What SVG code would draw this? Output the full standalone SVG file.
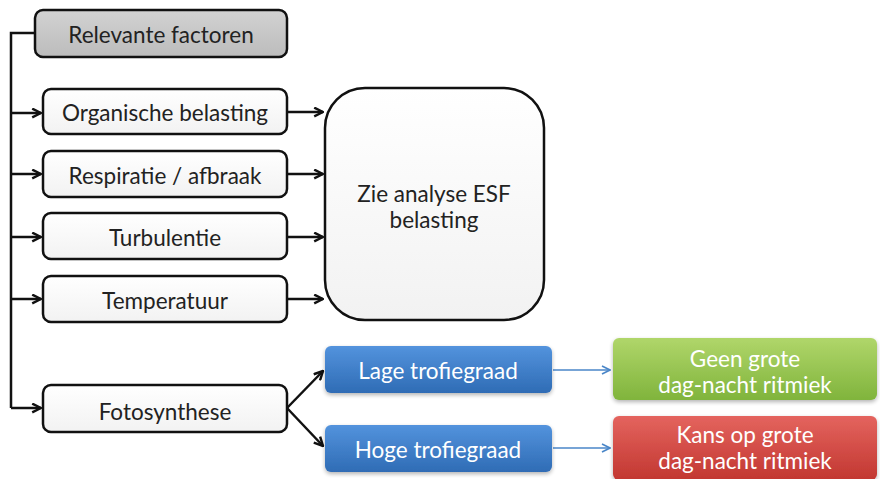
<svg xmlns="http://www.w3.org/2000/svg" width="880" height="479" viewBox="0 0 880 479">
  <defs>
    <linearGradient id="gWhite" x1="0" y1="0" x2="0" y2="1">
      <stop offset="0" stop-color="#ffffff"/>
      <stop offset="1" stop-color="#f2f2f2"/>
    </linearGradient>
    <linearGradient id="gGray" x1="0" y1="0" x2="0" y2="1">
      <stop offset="0" stop-color="#d2d2d2"/>
      <stop offset="1" stop-color="#bcbcbc"/>
    </linearGradient>
    <linearGradient id="gBlue" x1="0" y1="0" x2="0" y2="1">
      <stop offset="0" stop-color="#5393dd"/>
      <stop offset="1" stop-color="#2f6cb5"/>
    </linearGradient>
    <linearGradient id="gGreen" x1="0" y1="0" x2="0" y2="1">
      <stop offset="0" stop-color="#b0d66a"/>
      <stop offset="1" stop-color="#80b43c"/>
    </linearGradient>
    <linearGradient id="gRed" x1="0" y1="0" x2="0" y2="1">
      <stop offset="0" stop-color="#e4645e"/>
      <stop offset="1" stop-color="#c23731"/>
    </linearGradient>
    <filter id="shadow" x="-10%" y="-10%" width="120%" height="130%">
      <feGaussianBlur in="SourceAlpha" stdDeviation="2"/>
      <feOffset dx="0" dy="2" result="b"/>
      <feComponentTransfer><feFuncA type="linear" slope="0.3"/></feComponentTransfer>
      <feMerge><feMergeNode/><feMergeNode in="SourceGraphic"/></feMerge>
    </filter>
    <marker id="arrowBlack" viewBox="0 0 10 10" refX="9" refY="5" markerWidth="11" markerHeight="11" markerUnits="userSpaceOnUse" orient="auto">
      <path d="M1,1 L9,5 L1,9" fill="none" stroke="#111" stroke-width="2.2"/>
    </marker>
    <marker id="arrowBlue" viewBox="0 0 10 10" refX="9" refY="5" markerWidth="10" markerHeight="10" markerUnits="userSpaceOnUse" orient="auto">
      <path d="M1,1 L9,5 L1,9" fill="none" stroke="#4a86c8" stroke-width="1.6"/>
    </marker>
  </defs>
  <style>
    .box { fill: url(#gWhite); stroke: #111; stroke-width: 2.5; }
    .head { fill: url(#gGray); stroke: #111; stroke-width: 2.5; }
    .blue { fill: url(#gBlue); filter: url(#shadow); }
    .green { fill: url(#gGreen); filter: url(#shadow); }
    .red { fill: url(#gRed); filter: url(#shadow); }
    text { font-family: Lato, "Open Sans", sans-serif; font-size: 22.5px; text-anchor: middle; }
    .dark { fill: #222; }
    .light { fill: #ffffff; }
    .link { fill: none; stroke: #111; stroke-width: 2.5; }
    .blink { fill: none; stroke: #4a86c8; stroke-width: 1.6; }
  </style>

  <rect width="880" height="479" fill="#ffffff"/>

  <!-- connectors -->
  <g id="connectors">
    <path class="link" d="M35,33 H11 V408"/>
    <path class="link" d="M11,113 H41" marker-end="url(#arrowBlack)"/>
    <path class="link" d="M11,174 H41" marker-end="url(#arrowBlack)"/>
    <path class="link" d="M11,237 H41" marker-end="url(#arrowBlack)"/>
    <path class="link" d="M11,299 H41" marker-end="url(#arrowBlack)"/>
    <path class="link" d="M11,408 H41" marker-end="url(#arrowBlack)"/>
    <path class="link" d="M287,112 H323" marker-end="url(#arrowBlack)"/>
    <path class="link" d="M287,174 H323" marker-end="url(#arrowBlack)"/>
    <path class="link" d="M287,237 H323" marker-end="url(#arrowBlack)"/>
    <path class="link" d="M287,299 H323" marker-end="url(#arrowBlack)"/>
    <path class="link" d="M287,408 L323,371" marker-end="url(#arrowBlack)"/>
    <path class="link" d="M287,408 L323,446" marker-end="url(#arrowBlack)"/>
    <path class="blink" d="M553,370 H610" marker-end="url(#arrowBlue)"/>
    <path class="blink" d="M553,448 H610" marker-end="url(#arrowBlue)"/>
  </g>

  <g id="relevante-factoren">
    <rect class="head" x="35" y="10" width="252" height="47" rx="8"/>
    <text class="dark" x="161" y="43">Relevante factoren</text>
  </g>

  <g id="organische-belasting">
    <rect class="box" x="43" y="89" width="244" height="45" rx="8"/>
    <text class="dark" x="165" y="121">Organische belasting</text>
  </g>

  <g id="respiratie-afbraak">
    <rect class="box" x="43" y="151" width="244" height="46" rx="8"/>
    <text class="dark" x="165" y="184">Respiratie / afbraak</text>
  </g>

  <g id="turbulentie">
    <rect class="box" x="43" y="213" width="244" height="46" rx="8"/>
    <text class="dark" x="165" y="246">Turbulentie</text>
  </g>

  <g id="temperatuur">
    <rect class="box" x="43" y="276" width="244" height="46" rx="8"/>
    <text class="dark" x="165" y="309">Temperatuur</text>
  </g>

  <g id="esf-analyse">
    <rect class="box" x="325" y="88" width="219" height="232" rx="40"/>
    <text class="dark" x="434" y="202">Zie analyse ESF</text>
    <text class="dark" x="434" y="228">belasting</text>
  </g>

  <g id="fotosynthese">
    <rect class="box" x="43" y="385" width="244" height="47" rx="8"/>
    <text class="dark" x="165" y="420">Fotosynthese</text>
  </g>

  <g id="lage-trofiegraad">
    <rect class="blue" x="325" y="346" width="227" height="47" rx="6"/>
    <text class="light" x="438" y="379">Lage trofiegraad</text>
  </g>

  <g id="hoge-trofiegraad">
    <rect class="blue" x="325" y="425" width="227" height="47" rx="6"/>
    <text class="light" x="438" y="458">Hoge trofiegraad</text>
  </g>

  <g id="geen-ritmiek">
    <rect class="green" x="613" y="338" width="264" height="62" rx="6"/>
    <text class="light" x="745" y="367">Geen grote</text>
    <text class="light" x="745" y="393">dag-nacht ritmiek</text>
  </g>

  <g id="kans-ritmiek">
    <rect class="red" x="613" y="416" width="264" height="64" rx="6"/>
    <text class="light" x="745" y="443">Kans op grote</text>
    <text class="light" x="745" y="469">dag-nacht ritmiek</text>
  </g>
</svg>
